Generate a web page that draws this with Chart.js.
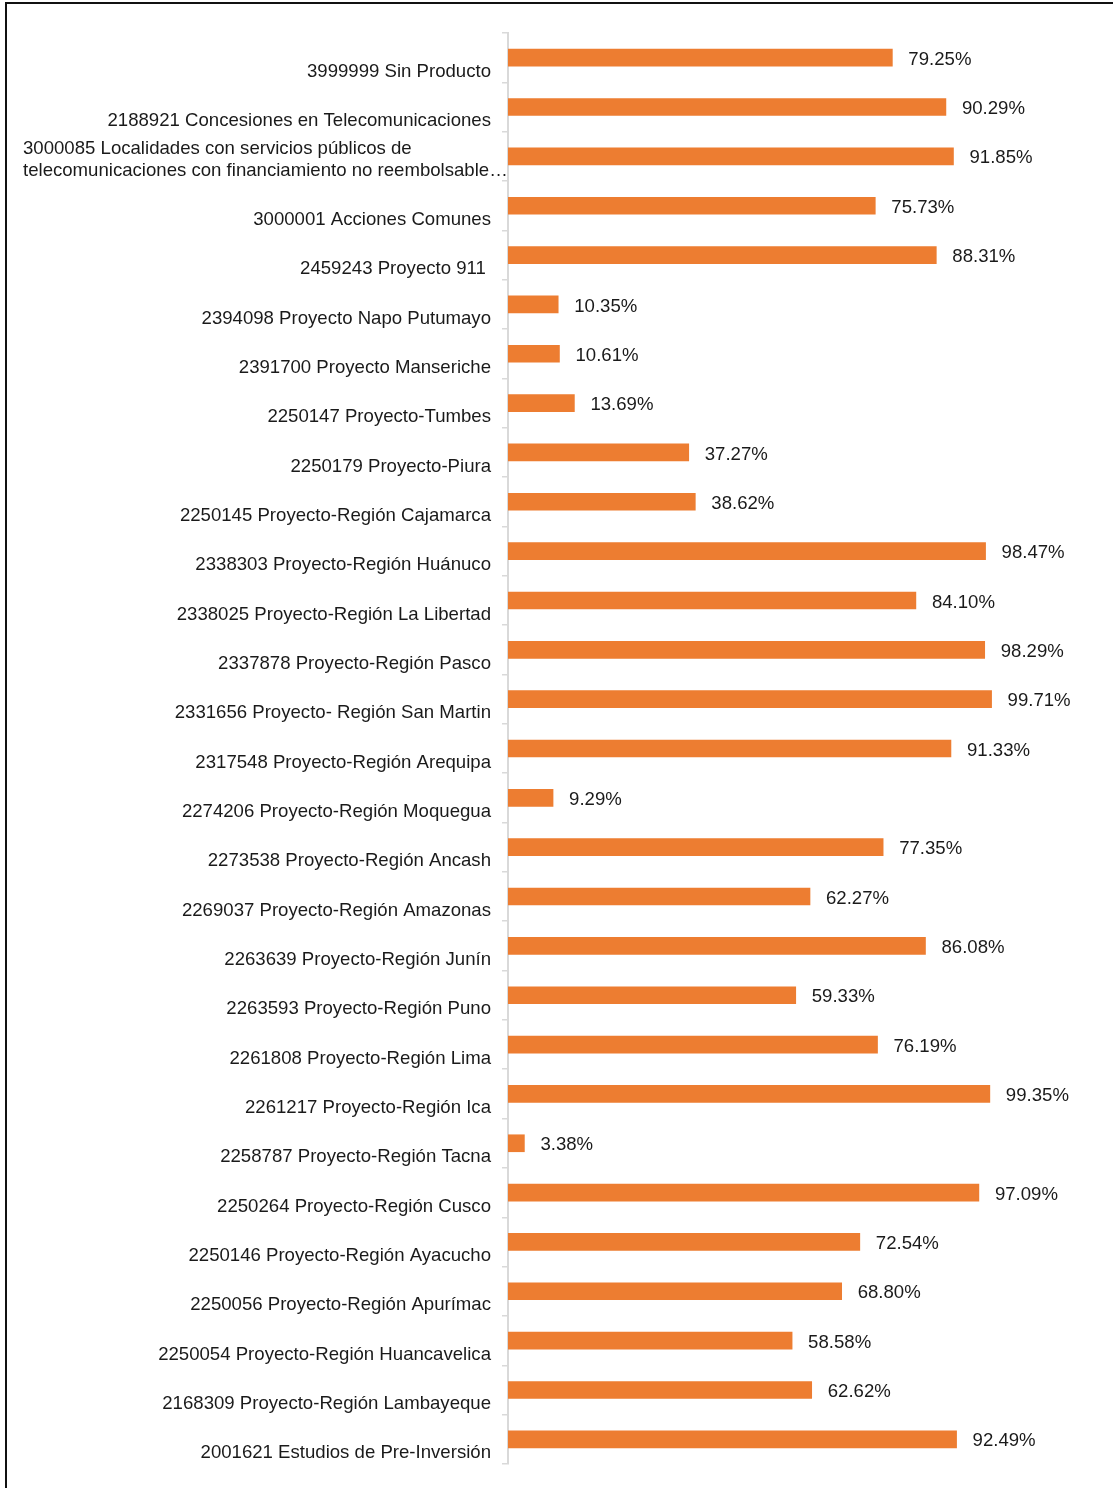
<!DOCTYPE html>
<html lang="es">
<head>
<meta charset="utf-8">
<title>Avance por producto</title>
<script src="https://cdn.jsdelivr.net/npm/chart.js@4.4.1/dist/chart.umd.min.js"></script>
<style>
  html, body { margin: 0; padding: 0; background: #fff; }
  body { width: 1113px; height: 1488px; position: relative; overflow: hidden; }
  .marco {
    position: absolute; left: 5px; top: 2px; width: 1200px; height: 1600px;
    border-top: 2px solid #111; border-left: 2px solid #111;
  }
  #grafico { position: absolute; left: 0; top: 0; }
</style>
</head>
<body>
<div class="marco"></div>
<canvas id="grafico" width="1113" height="1488"></canvas>
<script>
// =============================================
//  DATOS
// =============================================
const productos = [
  '3999999 Sin Producto',
  '2188921 Concesiones en Telecomunicaciones',
  ['3000085 Localidades con servicios públicos de', 'telecomunicaciones con financiamiento no reembolsable…'],
  '3000001 Acciones Comunes',
  '2459243 Proyecto 911 ',
  '2394098 Proyecto Napo Putumayo',
  '2391700 Proyecto Manseriche',
  '2250147 Proyecto-Tumbes',
  '2250179 Proyecto-Piura',
  '2250145 Proyecto-Región Cajamarca',
  '2338303 Proyecto-Región Huánuco',
  '2338025 Proyecto-Región La Libertad',
  '2337878 Proyecto-Región Pasco',
  '2331656 Proyecto- Región San Martin',
  '2317548 Proyecto-Región Arequipa',
  '2274206 Proyecto-Región Moquegua',
  '2273538 Proyecto-Región Ancash',
  '2269037 Proyecto-Región Amazonas',
  '2263639 Proyecto-Región Junín',
  '2263593 Proyecto-Región Puno',
  '2261808 Proyecto-Región Lima',
  '2261217 Proyecto-Región Ica',
  '2258787 Proyecto-Región Tacna',
  '2250264 Proyecto-Región Cusco',
  '2250146 Proyecto-Región Ayacucho',
  '2250056 Proyecto-Región Apurímac',
  '2250054 Proyecto-Región Huancavelica',
  '2168309 Proyecto-Región Lambayeque',
  '2001621 Estudios de Pre-Inversión'
];

const avance = [
  79.25, 90.29, 91.85, 75.73, 88.31, 10.35, 10.61, 13.69, 37.27, 38.62,
  98.47, 84.10, 98.29, 99.71, 91.33, 9.29, 77.35, 62.27, 86.08, 59.33,
  76.19, 99.35, 3.38, 97.09, 72.54, 68.80, 58.58, 62.62, 92.49
];

const FUENTE = '18.6px "Liberation Sans", Arial, sans-serif';
const COLOR_TEXTO = '#1a1a1a';

// =============================================
//  ETIQUETAS (categorías y valores)
// =============================================
const etiquetasPlugin = {
  id: 'etiquetas',
  afterDraw(chart) {
    const ctx = chart.ctx;
    const y = chart.scales.y;
    const area = chart.chartArea;
    ctx.save();
    ctx.font = FUENTE;
    ctx.fillStyle = COLOR_TEXTO;
    ctx.textBaseline = 'middle';

    // categorías a la izquierda del eje
    productos.forEach((p, i) => {
      const py = y.getPixelForValue(i);
      if (Array.isArray(p)) {
        ctx.textAlign = 'left';
        ctx.fillText(p[0], 23, py - 7);
        ctx.fillText(p[1], 23, py + 15);
      } else {
        ctx.textAlign = 'right';
        ctx.fillText(p, area.left - 17, py + 14);
      }
    });

    // porcentaje al final de cada barra
    ctx.textAlign = 'left';
    chart.getDatasetMeta(0).data.forEach((bar, i) => {
      ctx.fillText(avance[i].toFixed(2) + '%', bar.x + 16, bar.y + 2);
    });
    ctx.restore();
  }
};

// =============================================
//  GRÁFICO
// =============================================
new Chart(document.getElementById('grafico').getContext('2d'), {
  type: 'bar',
  data: {
    labels: productos,
    datasets: [{
      data: avance,
      backgroundColor: '#ED7D31',
      barThickness: 17
    }]
  },
  options: {
    indexAxis: 'y',
    responsive: false,
    animation: false,
    layout: { padding: { top: 33, right: 120, bottom: 24, left: 0 } },
    plugins: {
      legend: { display: false },
      tooltip: { enabled: false }
    },
    scales: {
      x: { display: false, min: 0, max: 100 },
      y: {
        grid: { drawOnChartArea: false, tickLength: 6, color: '#d9d9d9', lineWidth: 1.5 },
        border: { color: '#d9d9d9', width: 2 },
        ticks: { display: false },
        afterFit: s => { s.width = 508; }
      }
    }
  },
  plugins: [etiquetasPlugin]
});
</script>
</body>
</html>
